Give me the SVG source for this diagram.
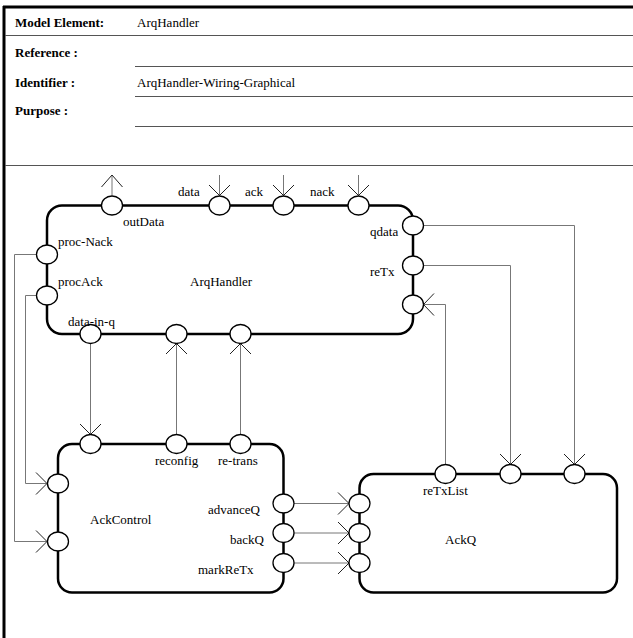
<svg xmlns="http://www.w3.org/2000/svg" width="633" height="638" viewBox="0 0 633 638">
  <style>
    .frame { stroke: #000; stroke-width: 3; fill: none; }
    .rule { stroke: #555; stroke-width: 1.2; fill: none; }
    .hdr { font-family: "Liberation Serif", "Times New Roman", serif; font-size: 13px; fill: #000; }
    .hdr-b { font-weight: bold; }
    .box { fill: #fff; stroke: #000; stroke-width: 2.5; }
    .port { fill: #fff; stroke: #000; stroke-width: 1.3; }
    .lbl { font-family: "Liberation Serif", "Times New Roman", serif; font-size: 13px; fill: #000; }
    .wire { stroke: #777; stroke-width: 1; fill: none; }
    .head { stroke: #222; stroke-width: 1; fill: none; }
  </style>

  <rect x="0" y="0" width="633" height="638" fill="#fff"/>

  <!-- form header -->
  <g id="header">
    <line class="frame" x1="3" y1="7" x2="633" y2="7"/>
    <line class="frame" x1="4" y1="6" x2="4" y2="638"/>
    <line class="rule" x1="5" y1="35.5" x2="633" y2="35.5"/>
    <line class="rule" x1="135" y1="66.5" x2="633" y2="66.5"/>
    <line class="rule" x1="135" y1="96.5" x2="633" y2="96.5"/>
    <line class="rule" x1="135" y1="126.5" x2="633" y2="126.5"/>
    <line class="rule" x1="5" y1="165.5" x2="633" y2="165.5" stroke="#888"/>
    <text class="hdr hdr-b" x="15" y="27">Model Element:</text>
    <text class="hdr" x="137" y="27">ArqHandler</text>
    <text class="hdr hdr-b" x="15" y="57">Reference :</text>
    <text class="hdr hdr-b" x="15" y="87">Identifier :</text>
    <text class="hdr" x="137" y="87">ArqHandler-Wiring-Graphical</text>
    <text class="hdr hdr-b" x="15" y="115">Purpose :</text>
  </g>

  <!-- connectors -->
  <g id="connectors">
    <!-- external ports of ArqHandler -->
    <line class="wire" x1="112" y1="175" x2="112" y2="195.5"/>
    <polyline class="head" points="101.5,187 112,175 122.5,187"/>
    <line class="wire" x1="219.5" y1="175" x2="219.5" y2="195.5"/>
    <polyline class="head" points="209,185 219.5,195.5 230,185"/>
    <line class="wire" x1="283.5" y1="175" x2="283.5" y2="195.5"/>
    <polyline class="head" points="273,185 283.5,195.5 294,185"/>
    <line class="wire" x1="358.5" y1="175" x2="358.5" y2="195.5"/>
    <polyline class="head" points="348,185 358.5,195.5 369,185"/>

    <!-- qdata to AckQ -->
    <polyline class="wire" points="423.5,225.5 574.5,225.5 574.5,464.5"/>
    <polyline class="head" points="564,454 574.5,464.5 585,454"/>
    <!-- reTx to AckQ -->
    <polyline class="wire" points="423.5,265.5 510.5,265.5 510.5,464.5"/>
    <polyline class="head" points="500,454 510.5,464.5 521,454"/>
    <!-- reTxList back to ArqHandler -->
    <polyline class="wire" points="445.5,464.5 445.5,304.5 423.5,304.5"/>
    <polyline class="head" points="434,293.5 423.5,304.5 434,315.5"/>

    <!-- data-in-q to AckControl -->
    <line class="wire" x1="90.5" y1="343.5" x2="90.5" y2="434.5"/>
    <polyline class="head" points="80,424 90.5,434.5 101,424"/>
    <!-- reconfig up to ArqHandler -->
    <line class="wire" x1="176.5" y1="343.5" x2="176.5" y2="434.5"/>
    <polyline class="head" points="166,354 176.5,343.5 187,354"/>
    <!-- re-trans up to ArqHandler -->
    <line class="wire" x1="240.5" y1="343.5" x2="240.5" y2="434.5" stroke="#999"/>
    <polyline class="head" points="230,354 240.5,343.5 251,354"/>

    <!-- proc-Nack down to lower AckControl port -->
    <polyline class="wire" points="36.5,254.5 14.5,254.5 14.5,541.5 47,541.5"/>
    <polyline class="head" points="36,530.5 47,541.5 36,552.5"/>
    <!-- procAck down to upper AckControl port -->
    <polyline class="wire" points="36.5,295.5 25.5,295.5 25.5,483.5 47,483.5"/>
    <polyline class="head" points="36,472.5 47,483.5 36,494.5"/>

    <!-- AckControl to AckQ -->
    <line class="wire" x1="294" y1="503.5" x2="349" y2="503.5"/>
    <polyline class="head" points="338,492.5 349,503.5 338,514.5"/>
    <line class="wire" x1="294" y1="533" x2="349" y2="533"/>
    <polyline class="head" points="338,522 349,533 338,544"/>
    <line class="wire" x1="294" y1="563" x2="349" y2="563"/>
    <polyline class="head" points="338,552 349,563 338,574"/>
  </g>

  <!-- ArqHandler -->
  <g id="ArqHandler">
    <rect class="box" x="47" y="205.5" width="366" height="128.5" rx="15"/>
    <ellipse class="port" cx="112" cy="205.5" rx="10.5" ry="9.5"/>
    <ellipse class="port" cx="219.5" cy="205.5" rx="10.5" ry="9.5"/>
    <ellipse class="port" cx="283.5" cy="205.5" rx="10.5" ry="9.5"/>
    <ellipse class="port" cx="358.5" cy="205.5" rx="10.5" ry="9.5"/>
    <ellipse class="port" cx="47" cy="254.5" rx="10.5" ry="9.5"/>
    <ellipse class="port" cx="47" cy="295.5" rx="10.5" ry="9.5"/>
    <ellipse class="port" cx="413" cy="225.5" rx="10.5" ry="9.5"/>
    <ellipse class="port" cx="413" cy="265.5" rx="10.5" ry="9.5"/>
    <ellipse class="port" cx="413" cy="304.5" rx="10.5" ry="9.5"/>
    <ellipse class="port" cx="90.5" cy="334" rx="10.5" ry="9.5"/>
    <ellipse class="port" cx="176.5" cy="334" rx="10.5" ry="9.5"/>
    <ellipse class="port" cx="240.5" cy="334" rx="10.5" ry="9.5"/>
    <text class="lbl" x="178" y="196">data</text>
    <text class="lbl" x="245" y="196">ack</text>
    <text class="lbl" x="310" y="196">nack</text>
    <text class="lbl" x="123" y="226">outData</text>
    <text class="lbl" x="58" y="246">proc-Nack</text>
    <text class="lbl" x="58" y="286">procAck</text>
    <text class="lbl" x="190" y="286">ArqHandler</text>
    <text class="lbl" x="68" y="326">data-in-q</text>
    <text class="lbl" x="370" y="236">qdata</text>
    <text class="lbl" x="370" y="276">reTx</text>
  </g>

  <!-- AckControl -->
  <g id="AckControl">
    <rect class="box" x="58" y="444" width="225.5" height="148.5" rx="14"/>
    <ellipse class="port" cx="90.5" cy="444" rx="10.5" ry="9.5"/>
    <ellipse class="port" cx="176.5" cy="444" rx="10.5" ry="9.5"/>
    <ellipse class="port" cx="240.5" cy="444" rx="10.5" ry="9.5"/>
    <ellipse class="port" cx="58" cy="483.5" rx="10.5" ry="9.5"/>
    <ellipse class="port" cx="58" cy="541.5" rx="10.5" ry="9.5"/>
    <ellipse class="port" cx="283.5" cy="503.5" rx="10.5" ry="9.5"/>
    <ellipse class="port" cx="283.5" cy="533" rx="10.5" ry="9.5"/>
    <ellipse class="port" cx="283.5" cy="563" rx="10.5" ry="9.5"/>
    <text class="lbl" x="155" y="465">reconfig</text>
    <text class="lbl" x="218" y="465">re-trans</text>
    <text class="lbl" x="90" y="524">AckControl</text>
    <text class="lbl" x="208" y="514">advanceQ</text>
    <text class="lbl" x="230" y="543.5">backQ</text>
    <text class="lbl" x="198" y="573.5">markReTx</text>
  </g>

  <!-- AckQ -->
  <g id="AckQ">
    <rect class="box" x="359.5" y="474" width="257.5" height="118.5" rx="14"/>
    <ellipse class="port" cx="445.5" cy="474" rx="10.5" ry="9.5"/>
    <ellipse class="port" cx="510.5" cy="474" rx="10.5" ry="9.5"/>
    <ellipse class="port" cx="574.5" cy="474" rx="10.5" ry="9.5"/>
    <ellipse class="port" cx="359.5" cy="503.5" rx="10.5" ry="9.5"/>
    <ellipse class="port" cx="359.5" cy="533" rx="10.5" ry="9.5"/>
    <ellipse class="port" cx="359.5" cy="563" rx="10.5" ry="9.5"/>
    <text class="lbl" x="423" y="494.5">reTxList</text>
    <text class="lbl" x="445" y="543.5">AckQ</text>
  </g>
</svg>
